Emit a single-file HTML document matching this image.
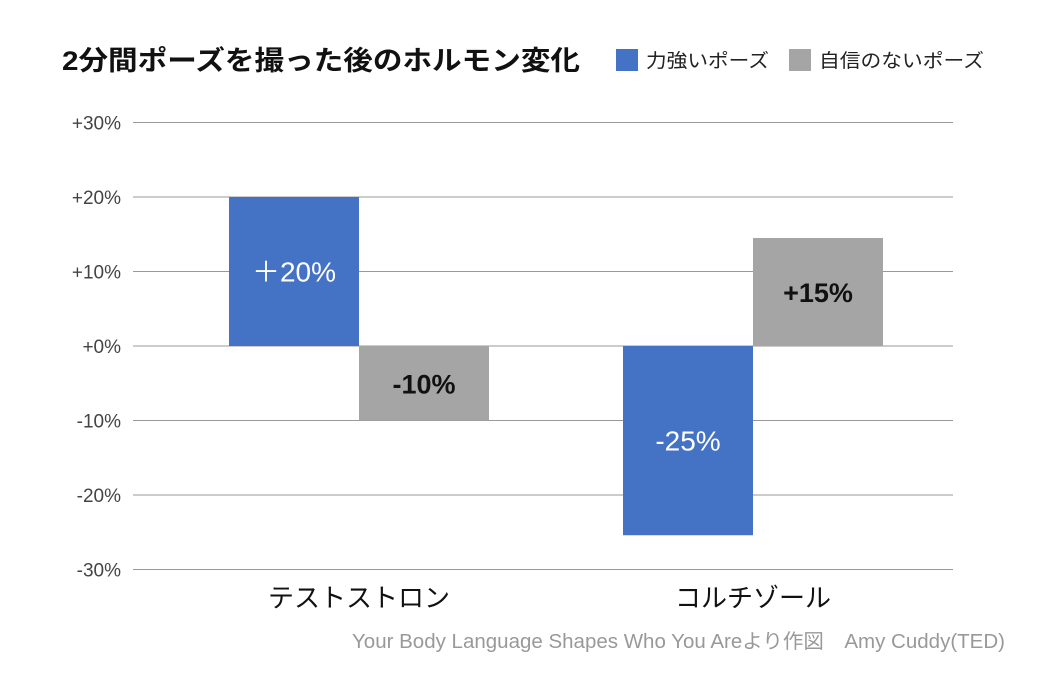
<!DOCTYPE html>
<html><head><meta charset="utf-8"><style>
html,body{margin:0;padding:0;background:#fff;}
body{width:1040px;height:670px;overflow:hidden;font-family:"Liberation Sans","Noto Sans CJK JP",sans-serif;}
</style></head><body>
<svg id="chart" width="1040" height="670" viewBox="0 0 1040 670" font-family="Liberation Sans, Noto Sans CJK JP, sans-serif">
<text x="62" y="70" font-size="27" font-weight="bold" fill="#111" textLength="518" lengthAdjust="spacingAndGlyphs">2分間ポーズを撮った後のホルモン変化</text>
<rect x="616" y="49" width="22" height="22" fill="#4472c4"/>
<text x="646" y="67" font-size="19" fill="#222" textLength="123" lengthAdjust="spacingAndGlyphs">力強いポーズ</text>
<rect x="789" y="49" width="22" height="22" fill="#a5a5a5"/>
<text x="819" y="67" font-size="19" fill="#222" textLength="165" lengthAdjust="spacingAndGlyphs">自信のないポーズ</text>
<g id="grid"></g><g id="bars"></g><g id="labels"></g>
<text x="352" y="648" font-size="20" fill="#999" textLength="653" lengthAdjust="spacingAndGlyphs">Your Body Language Shapes Who You Areより作図　Amy Cuddy(TED)</text>
</svg>
<script>
const categories = ["テストストロン", "コルチゾール"];
const powerValues = [20, -25.4];
const weakValues = [-10, 14.5];
const powerLabels = ["＋20%", "-25%"];
const weakLabels = ["-10%", "+15%"];
const yTicks = [30, 20, 10, 0, -10, -20, -30];
const yTickLabels = ["+30%", "+20%", "+10%", "+0%", "-10%", "-20%", "-30%"];

const NS = "http://www.w3.org/2000/svg";
const y = v => 346 - v * 7.45;
const bandStart = 162, bandW = 394;
const xc = i => bandStart + bandW * i + bandW / 2;
const barW = 130;
function mk(tag, attrs, parent, txt) {
  const e = document.createElementNS(NS, tag);
  for (const k in attrs) e.setAttribute(k, attrs[k]);
  if (txt !== undefined) e.textContent = txt;
  parent.appendChild(e);
  return e;
}
const grid = document.getElementById("grid");
const bars = document.getElementById("bars");
const labels = document.getElementById("labels");
yTicks.forEach((t, i) => {
  const l = mk("line", {x1: 133, x2: 953, y1: y(t), y2: y(t), stroke: "#999", "stroke-width": 1}, grid);
  
  
  const tx = mk("text", {x: 121, y: y(t) + 7, "text-anchor": "end", "font-size": 19, fill: "#444"}, grid, yTickLabels[i]);
  
  
});
categories.forEach((c, i) => {
  const cx = xc(i);
  const pv = powerValues[i], wv = weakValues[i];
  const b1 = mk("rect", {x: cx - barW, y: Math.min(y(pv), y(0)), width: barW, height: Math.abs(y(pv) - y(0)), fill: "#4472c4"}, bars);
  
  
  const b2 = mk("rect", {x: cx, y: Math.min(y(wv), y(0)), width: barW, height: Math.abs(y(wv) - y(0)), fill: "#a5a5a5"}, bars);
  
  
  const t1 = mk("text", {x: cx - barW / 2, y: (y(pv) + y(0)) / 2 + 10, "text-anchor": "middle", "font-size": 28, fill: "#fff"}, labels, powerLabels[i]);
  
  
  const t2 = mk("text", {x: cx + barW / 2, y: (y(wv) + y(0)) / 2 + 10, "text-anchor": "middle", "font-size": 27, "font-weight": "bold", fill: "#111"}, labels, weakLabels[i]);
  
  
  const cl = mk("text", {x: cx, y: 607, "text-anchor": "middle", "font-size": 26, fill: "#111"}, labels, c);
  
  
});
</script>
</body></html>
